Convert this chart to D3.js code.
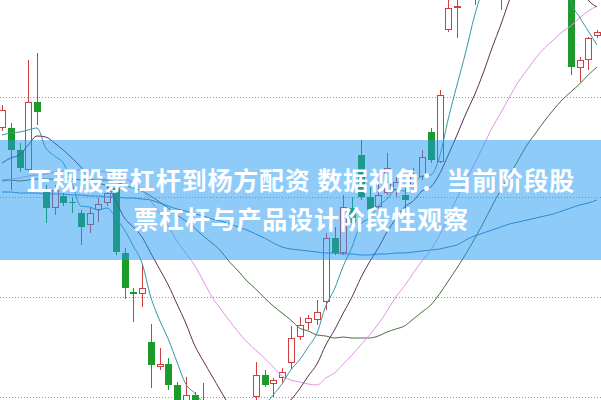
<!DOCTYPE html>
<html><head><meta charset="utf-8">
<script src="https://cdn.jsdelivr.net/npm/d3@7"></script>
<style>html,body{margin:0;padding:0;background:#fff;overflow:hidden}</style>
</head><body><svg id="c" width="601" height="400"></svg>
<script>
// ---- candle data (daily OHLC) ----
const opens  = [8.69,8.69,8.47,8.27,8.95,8.07,7.89,8.01,7.95,7.84, 7.72,7.87,7.94,8.09,7.44,7.05,7.03,6.55,6.30,6.33, 6.12,5.89,6.02,5.95,5.82,5.67,5.52,5.62,5.72,6.00, 6.22,6.13,6.19,6.34,6.60,6.74,6.77,6.95,7.59,7.44, 7.89,8.42,8.00,7.90,8.04,8.07,8.02,8.12,8.20,8.65, 8.35,9.67,9.89,10.02,10.37,10.17,10.37,10.27,10.57,10.67, 10.57,10.77,10.72,10.87,10.67,10.37,9.29,9.37,9.61];
const closes = [8.87,8.47,8.29,8.95,8.85,7.89,8.07,7.94,7.94,7.70, 7.84,7.93,8.04,7.45,7.09,7.03,7.09,6.32,6.33,6.12, 5.87,6.02,5.87,5.82,5.67,5.52,5.62,5.72,5.87,6.22, 6.12,6.17,6.25,6.59,6.72,6.79,6.85,7.59,7.44,7.90, 7.74,8.00,7.87,8.02,8.29,8.15,7.97,8.22,8.40,8.37, 9.02,9.89,9.91,10.07,10.17,10.37,10.47,10.57,10.67,10.57, 10.77,10.72,10.87,10.67,10.37,9.30,9.37,9.59,9.65];
const highs  = [8.92,8.74,8.54,9.37,9.44,8.12,8.12,8.04,8.00,7.87, 7.90,7.99,8.12,8.12,7.49,7.09,7.33,6.73,6.49,6.39, 6.15,6.20,6.05,6.14,5.92,5.77,5.72,5.85,5.93,6.35, 6.27,6.19,6.29,6.71,6.80,6.82,6.97,7.64,7.70,8.02, 8.00,8.57,8.10,8.14,8.44,8.22,8.09,8.29,8.47,8.69, 9.07,10.02,10.17,10.22,10.57,10.52,10.67,10.77,10.87,10.92, 10.97,11.02,11.07,11.12,10.87,10.47,9.40,9.60,9.67];
const lows   = [8.66,8.07,8.25,8.25,8.72,7.74,7.82,7.91,7.84,7.52, 7.64,7.75,7.91,7.42,6.98,6.75,6.90,6.09,6.27,6.07, 5.77,5.85,5.82,5.77,5.57,5.42,5.37,5.57,5.67,5.92, 6.10,6.00,6.14,6.28,6.57,6.67,6.72,6.87,7.42,7.42, 7.72,7.97,7.84,7.87,8.02,8.00,7.89,8.07,8.17,8.34, 8.34,9.65,9.59,9.99,9.92,10.07,10.27,9.87,10.42,10.37, 10.47,10.52,10.57,10.57,10.22,9.22,9.15,9.27,9.59];

// ---- moving average series ----
const ma5  = [8.62,8.64,8.65,8.67,8.69,8.49,8.41,8.34,8.14,7.91, 7.90,7.87,7.89,7.79,7.67,7.51,7.34,7.00,6.77,6.58, 6.35,6.13,6.04,5.94,5.85,5.78,5.70,5.67,5.68,5.79, 5.91,6.02,6.13,6.27,6.37,6.50,6.64,6.91,7.08,7.31, 7.50,7.73,7.79,7.91,7.98,8.07,8.06,8.13,8.21,8.22, 8.40,8.78,9.12,9.45,9.81,10.08,10.20,10.33,10.47,10.57, 10.67,10.67,10.72,10.67,10.57,9.97,9.80,9.66,9.52];
const ma10 = [8.34,8.39,8.42,8.52,8.61,8.60,8.54,8.47,8.39,8.30, 8.19,8.14,8.11,7.96,7.79,7.70,7.60,7.44,7.28,7.12, 6.93,6.74,6.52,6.36,6.21,6.06,5.92,5.86,5.81,5.82, 5.84,5.86,5.90,5.97,6.08,6.21,6.33,6.52,6.67,6.84, 7.00,7.19,7.35,7.49,7.65,7.78,7.90,7.96,8.06,8.10, 8.23,8.42,8.62,8.83,9.02,9.24,9.49,9.72,9.97,10.17, 10.32,10.42,10.47,10.47,10.42,10.27,10.12,9.97,9.90];
const ma20 = [8.17,8.18,8.19,8.21,8.22,8.23,8.25,8.26,8.27,8.27, 8.27,8.26,8.25,8.23,8.19,8.14,8.07,7.96,7.84,7.71, 7.56,7.44,7.32,7.16,7.00,6.88,6.76,6.65,6.55,6.47, 6.39,6.30,6.21,6.17,6.15,6.13,6.12,6.19,6.24,6.33, 6.42,6.52,6.62,6.73,6.86,7.00,7.11,7.24,7.36,7.47, 7.62,7.80,7.99,8.16,8.33,8.51,8.69,8.84,9.00,9.15, 9.27,9.39,9.49,9.57,9.65,9.71,9.79,9.86,9.91];
const ma30 = [8.16,8.17,8.16,8.17,8.18,8.18,8.18,8.18,8.18,8.17, 8.17,8.17,8.17,8.15,8.12,8.09,8.06,8.01,7.95,7.89, 7.82,7.76,7.69,7.61,7.54,7.46,7.35,7.26,7.16,7.08, 6.99,6.91,6.84,6.77,6.69,6.66,6.62,6.61,6.59,6.60, 6.59,6.59,6.59,6.61,6.65,6.68,6.71,6.78,6.85,6.92, 7.03,7.16,7.29,7.43,7.58,7.74,7.91,8.07,8.22,8.37, 8.52,8.64,8.76,8.87,8.97,9.05,9.13,9.22,9.30];
const ma60 = [8.05,8.05,8.04,8.04,8.04,8.03,8.03,8.03,8.02,8.02, 8.01,8.01,8.00,8.00,7.99,7.99,7.98,7.97,7.94,7.91, 7.88,7.86,7.83,7.81,7.78,7.76,7.73,7.70,7.67,7.63, 7.59,7.54,7.50,7.48,7.47,7.46,7.45,7.44,7.44,7.43, 7.43,7.42,7.42,7.43,7.43,7.44,7.44,7.45,7.46,7.47, 7.48,7.50,7.52,7.57,7.61,7.64,7.67,7.70,7.73,7.75, 7.77,7.79,7.81,7.83,7.86,7.89,7.92,7.94,7.97];

const gridTicks = [6, 7, 8, 9];
const titleLines = ["正规股票杠杆到杨方配资 数据视角：当前阶段股", "票杠杆与产品设计阶段性观察"];

const W = 601, H = 400;
const svg = d3.select("#c");
const days = opens.map((_, i) => i);
const x = d3.scalePoint().domain(days).range([2, 597]);
const y = d3.scaleLinear().domain([5.97, 9.97]).range([H, 0]);

// grid
svg.append("g").selectAll("line").data(gridTicks).join("line")
  .attr("x1", 0).attr("x2", W)
  .attr("y1", d => Math.round(y(d)) + 0.5).attr("y2", d => Math.round(y(d)) + 0.5)
  .attr("stroke", "#9a9a9a").attr("stroke-width", 1).attr("stroke-dasharray", "1,2");

const RED = "#cf3f40", GREEN = "#1c9a2a";
const candles = days.map(i => ({i, o: opens[i], c: closes[i], h: highs[i], l: lows[i]}));
const cg = svg.append("g");
candles.forEach(d => {
  const cx = Math.round(x(d.i));
  const up = d.c >= d.o;
  const top = Math.round(y(Math.max(d.o, d.c)));
  const bot = Math.round(y(Math.min(d.o, d.c)));
  const hy = Math.round(y(d.h)), ly = Math.round(y(d.l));
  if (up) {
    cg.append("line").attr("x1", cx + 0.5).attr("x2", cx + 0.5).attr("y1", hy).attr("y2", top)
      .attr("stroke", RED).attr("stroke-width", 1);
    cg.append("line").attr("x1", cx + 0.5).attr("x2", cx + 0.5).attr("y1", Math.max(bot, top + 1)).attr("y2", ly)
      .attr("stroke", RED).attr("stroke-width", 1);
    cg.append("rect").attr("x", cx - 2.5).attr("y", top + 0.5).attr("width", 6).attr("height", Math.max(bot - top - 1, 1))
      .attr("fill", "#fff").attr("stroke", RED).attr("stroke-width", 1);
  } else {
    cg.append("line").attr("x1", cx + 0.5).attr("x2", cx + 0.5).attr("y1", hy).attr("y2", ly)
      .attr("stroke", GREEN).attr("stroke-width", 1);
    cg.append("rect").attr("x", cx - 3).attr("y", top).attr("width", 7).attr("height", Math.max(bot - top, 1))
      .attr("fill", GREEN);
  }
});

// moving averages
const series = [
  {v: ma60, color: "#3a7db8"},
  {v: ma30, color: "#44703a"},
  {v: ma20, color: "#e294e6"},
  {v: ma10, color: "#5e2d57"},
  {v: ma5,  color: "#3596a4"}
];
const line = d3.line().x((d, i) => x(i)).y(d => y(d)).curve(d3.curveMonotoneX);
svg.append("g").selectAll("path").data(series).join("path")
  .attr("d", s => line(s.v)).attr("fill", "none")
  .attr("stroke", s => s.color).attr("stroke-width", 1);

// banner
svg.append("rect").attr("x", 0).attr("y", 140).attr("width", W).attr("height", 120)
  .attr("fill", "rgb(30,151,243)").attr("fill-opacity", 0.5);

svg.append("g").selectAll("text").data(titleLines).join("text")
  .attr("x", 301).attr("y", (d, i) => 190 + i * 39)
  .attr("text-anchor", "middle")
  .attr("font-family", "'Noto Sans CJK SC', 'Noto Sans', sans-serif")
  .attr("font-weight", "bold").attr("font-size", 25)
  .attr("letter-spacing", 0.8)
  .attr("fill", "#fff")
  .text(d => d);
</script></body></html>
